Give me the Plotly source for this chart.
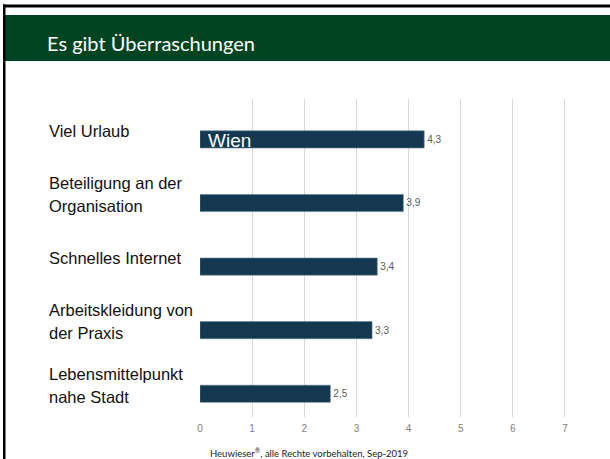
import plotly.graph_objects as go

categories = ["Viel Urlaub", "Beteiligung an der<br>Organisation", "Schnelles Internet",
              "Arbeitskleidung von<br>der Praxis", "Lebensmittelpunkt<br>nahe Stadt"]
values = [4.3, 3.9, 3.4, 3.3, 2.5]
x_ticks = [0, 1, 2, 3, 4, 5, 6, 7]
title_text = "Es gibt Überraschungen"
footer_text = "Heuwieser<sup>®</sup>, alle Rechte vorbehalten, Sep-2019"
inner_label = "Wien"

W, H = 610, 459
L, R, T, B = 200, 44, 99, 42
pw, ph = W - L - R, H - T - B

def px(p):
    return (p - L) / pw

def py(q):
    return (H - B - q) / ph

ypos = list(range(len(categories)))
val_text = [f"{v:.1f}".replace(".", ",") for v in values]

fig = go.Figure()
fig.add_trace(go.Bar(
    y=ypos, x=values, orientation="h",
    width=0.27, offset=0,
    marker=dict(color="#14384f", line=dict(color="#5f7f93", width=0.6)),
    text=val_text, textposition="outside",
    textfont=dict(family="Liberation Sans, Arial", size=10, color="#595959"),
    cliponaxis=False, hoverinfo="skip",
))

annotations = []
LINE_GAP = 23
for i, c in enumerate(categories):
    lines = c.split("<br>")
    n = len(lines)
    for j, ln in enumerate(lines):
        shift = ((n - 1) / 2 - j) * LINE_GAP
        annotations.append(dict(
            x=px(47), xref="paper", y=i, yref="y", text=ln, showarrow=False,
            xanchor="left", yanchor="middle", align="left", yshift=shift,
            font=dict(family="Liberation Sans, Arial", size=16.5, color="#111111"),
        ))
annotations.append(dict(
    x=0, xref="x", y=0.135, yref="y", text=inner_label, showarrow=False,
    xanchor="left", yanchor="middle", xshift=6, yshift=-1,
    font=dict(family="Liberation Sans, Arial", size=19, color="#ffffff"),
))
annotations.append(dict(
    x=px(45), xref="paper", y=py(43), yref="paper", text=title_text, showarrow=False,
    xanchor="left", yanchor="middle",
    font=dict(family="Lato", size=20, color="#ffffff"),
))
annotations.append(dict(
    x=px(309), xref="paper", y=py(452), yref="paper", text=footer_text, showarrow=False,
    xanchor="center", yanchor="middle",
    font=dict(family="Lato", size=9.5, color="#222222"),
))

shapes = [
    dict(type="rect", xref="paper", yref="paper", x0=px(5), x1=px(611), y0=py(61), y1=py(15),
         fillcolor="#014421", line=dict(width=0), layer="below"),
    dict(type="rect", xref="paper", yref="paper", x0=px(3), x1=px(611), y0=py(7.5), y1=py(4.5),
         fillcolor="#000000", line=dict(width=0)),
    dict(type="rect", xref="paper", yref="paper", x0=px(3), x1=px(5.5), y0=py(460), y1=py(4.5),
         fillcolor="#000000", line=dict(width=0)),
]

fig.update_layout(
    width=W, height=H, margin=dict(l=L, r=R, t=T, b=B),
    paper_bgcolor="#ffffff", plot_bgcolor="#ffffff",
    showlegend=False, annotations=annotations, shapes=shapes,
    xaxis=dict(range=[0, 7.02], tickvals=x_ticks, ticktext=[str(t) for t in x_ticks],
               showgrid=True, gridcolor="#d9d9d9", gridwidth=1, zeroline=False,
               showline=False, ticks="", fixedrange=True, ticklabelstandoff=4,
               tickfont=dict(family="Liberation Sans, Arial", size=10, color="#808080")),
    yaxis=dict(range=[len(categories) - 0.5, -0.5], showticklabels=False, showgrid=False,
               zeroline=False, showline=False, ticks="", fixedrange=True),
)

fig.write_html(
    "out.html",
    config={"displayModeBar": False},
    post_script="document.body.style.margin='0';document.body.style.overflow='hidden';",
)
